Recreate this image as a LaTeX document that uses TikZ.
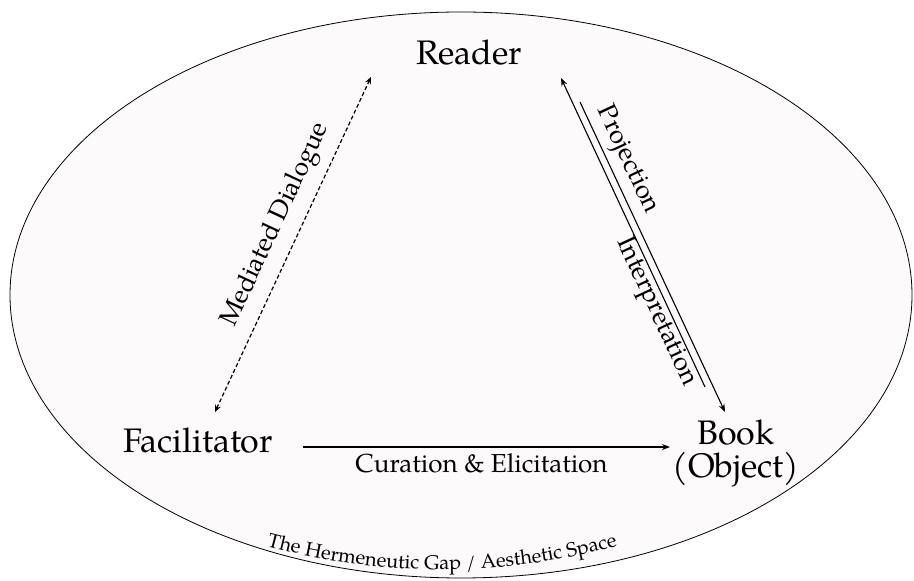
\documentclass[tikz,border=0pt]{standalone}
\usepackage{fontspec}
\setmainfont{TeX Gyre Pagella}
\usetikzlibrary{arrows.meta,decorations.text}
\definecolor{gapfill}{RGB}{253,250,252}
\begin{document}
\begin{tikzpicture}[x=1pt,y=1pt,
  big/.style={font=\fontsize{34}{33}\selectfont, inner sep=0pt},
  lab/.style={font=\fontsize{26}{30}\selectfont, inner sep=0pt},
  arr/.style={-{Stealth[length=8pt,width=6pt]}, line width=1.1pt},
  darr/.style={{Stealth[length=7pt,width=6pt]}-{Stealth[length=7pt,width=6pt]}, line width=1.2pt, dash pattern=on 4pt off 2.5pt}]
\useasboundingbox (0,0) rectangle (914,581);
\draw[fill=gapfill, line width=0.8pt] (461,286) ellipse [x radius=451, y radius=283];

\node[big, anchor=base] (reader) at (469,516) {Reader};
\node[big, anchor=base] (fac) at (198,128) {Facilitator};
\node[big, align=center] (book) at (736,128) {Book\\(Object)};

% Mediated dialogue
\coordinate (mdF) at (215,169);
\coordinate (mdR) at (371,504);
\draw[darr] (mdF) -- (mdR);
\node[lab, rotate=65] (mdlab) at (276,356) {Mediated Dialogue};

% Book <-> Reader
\coordinate (pA1) at (705,194);
\coordinate (pA2) at (561,503);
\coordinate (pB1) at (580,479);
\coordinate (pB2) at (725,169);
\draw[arr] (pA1) -- (pA2);
\draw[arr] (pB1) -- (pB2);
\node[lab, rotate=-65] (proj) at (627,421) {Projection};
\node[lab, rotate=-65] (interp) at (656,269) {Interpretation};

% Curation
\coordinate (cF) at (303,134);
\coordinate (cB) at (670,134);
\draw[arr] (cF) -- (cB);
\node[lab, anchor=base] (cur) at (481.5,108) {Curation \& Elicitation};

% Bottom arc text
\path[decorate, decoration={text along path,
  text={|\fontsize{20}{24}\selectfont|The Hermeneutic Gap / Aesthetic Space},
  text align=center}]
  (160.1,74) arc[start angle=245, end angle=295, radius=667];
\end{tikzpicture}
\end{document}
